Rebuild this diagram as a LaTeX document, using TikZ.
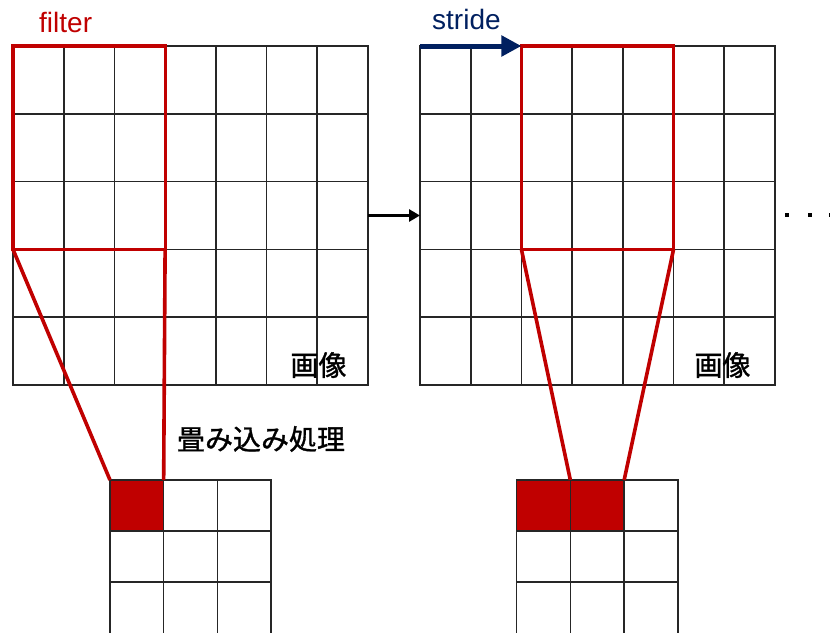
\documentclass[tikz,border=0pt]{standalone}
\usepackage{fontspec}
\setmainfont{Liberation Sans}
\newfontfamily\jpfont[FakeBold=1.2]{Noto Sans CJK JP}
\usetikzlibrary{arrows.meta}
\definecolor{fred}{RGB}{192,0,0}
\definecolor{navyblue}{RGB}{0,32,96}
\begin{document}
\begin{tikzpicture}[x=1pt,y=-1pt,
  gridline/.style={draw=black!85, line width=1.6pt},
  frame/.style={gridline, rectangle, inner sep=0pt, outer sep=0pt, anchor=north west},
  filterbox/.style={draw=fred, line width=3.2pt, rectangle, inner sep=0pt, outer sep=0pt, anchor=north west, minimum width=152.1pt, minimum height=203.4pt},
  rescell/.style={frame, fill=fred},
  redline/.style={draw=fred, line width=3.6pt},
  midarrow/.style={draw=black, line width=3pt, -{Triangle[length=11pt,width=12pt]}},
  stridearrow/.style={draw=navyblue, line width=5pt, -{Triangle[length=20pt,width=20pt]}},
  lbl/.style={font=\fontsize{28pt}{32pt}\selectfont, inner sep=0pt},
  jlbl/.style={font=\fontsize{28pt}{32pt}\selectfont\jpfont, inner sep=0pt},
  dotsq/.style={fill=black, rectangle, inner sep=0pt, minimum size=4.5pt}
]
\useasboundingbox (0,0) rectangle (830,632);
\fill[white] (0,0) rectangle (830,632);

% left image grid
\node[frame, minimum width=355pt, minimum height=339pt] (img1) at (13,46) {};
\foreach \i in {1,...,6} \draw[gridline] ({13+\i*50.714},46) -- ({13+\i*50.714},385);
\foreach \j in {1,...,4} \draw[gridline] (13,{46+\j*67.8}) -- (368,{46+\j*67.8});

% right image grid
\node[frame, minimum width=355pt, minimum height=339pt] (img2) at (420,46) {};
\foreach \i in {1,...,6} \draw[gridline] ({420+\i*50.714},46) -- ({420+\i*50.714},385);
\foreach \j in {1,...,4} \draw[gridline] (420,{46+\j*67.8}) -- (775,{46+\j*67.8});

% bottom-left result grid
\node[frame, minimum width=161pt, minimum height=156pt] (out1) at (110,480) {};
\node[rescell, minimum width=53.67pt, minimum height=51pt] (r1) at (110,480) {};
\foreach \i in {1,2} \draw[gridline] ({110+\i*53.67},480) -- ({110+\i*53.67},636);
\foreach \j in {1,2} \draw[gridline] (110,{480+\j*51}) -- (271,{480+\j*51});

% bottom-right result grid
\node[frame, minimum width=161.5pt, minimum height=156pt] (out2) at (516.5,480) {};
\node[rescell, minimum width=53.83pt, minimum height=51pt] (r2a) at (516.5,480) {};
\node[rescell, minimum width=53.83pt, minimum height=51pt] (r2b) at (570.33,480) {};
\foreach \i in {1,2} \draw[gridline] ({516.5+\i*53.83},480) -- ({516.5+\i*53.83},636);
\foreach \j in {1,2} \draw[gridline] (516.5,{480+\j*51}) -- (678,{480+\j*51});

% filters
\node[filterbox] (f1) at (13,46) {};
\node[filterbox] (f2) at (521.43,46) {};

% connectors
\draw[redline] (f1.south west) -- (r1.north west);
\draw[redline] (f1.south east) -- (r1.north east);
\draw[redline] (f2.south west) -- (r2b.north west);
\draw[redline] (f2.south east) -- (r2b.north east);

\draw[midarrow] (img1.east) -- (img2.west);
\draw[stridearrow] (img2.north west) -- (f2.north west);

% labels
\node[lbl, text=fred, anchor=base west] (tfilter) at (39,32) {filter};
\node[lbl, text=navyblue, anchor=base west] (tstride) at (432,29) {stride};
\node[jlbl, anchor=center] (timg1) at (318.5,365) {画像};
\node[jlbl, anchor=center] (timg2) at (722.5,365) {画像};
\node[jlbl, anchor=center] (tconv) at (261,439) {畳み込み処理};

% continuation dots
\node[dotsq] (d1) at (787,215) {};
\node[dotsq] (d2) at (810,215) {};
\node[dotsq] (d3) at (831.5,215) {};
\end{tikzpicture}
\end{document}
